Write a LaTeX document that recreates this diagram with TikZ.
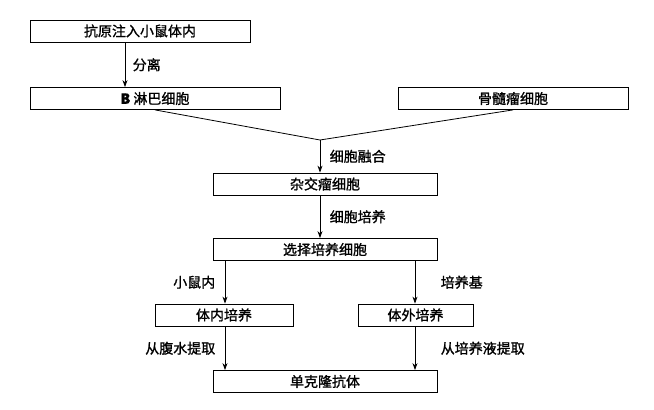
\documentclass[tikz,border=0pt]{standalone}
\usepackage{fontspec}
\setmainfont{Liberation Serif}
\newfontfamily\cjk[FakeBold=1.2]{Noto Sans CJK SC}
\usetikzlibrary{arrows.meta}
\begin{document}
\begin{tikzpicture}[x=1pt,y=-1pt,
 box/.style={draw,line width=0.8pt,minimum height=22pt,inner sep=0pt,font=\cjk\fontsize{14}{14}\selectfont},
 lab/.style={font=\cjk\fontsize{14}{14}\selectfont},
 arr/.style={line width=0.8pt,-{Stealth[length=7pt,width=5pt]}}]
\useasboundingbox (0,0) rectangle (654,410);
\node[box,minimum width=220pt] (b1) at (140,31) {抗原注入小鼠体内};
\node[box,minimum width=250pt] (b2) at (155,98.5) {{\bfseries B} 淋巴细胞};
\node[box,minimum width=230pt] (b3) at (513,98.5) {骨髓瘤细胞};
\node[box,minimum width=224pt] (b4) at (325,184) {杂交瘤细胞};
\node[box,minimum width=224pt] (b5) at (325,249.5) {选择培养细胞};
\node[box,minimum width=138pt] (b6) at (224,315) {体内培养};
\node[box,minimum width=115pt] (b7) at (415.5,315) {体外培养};
\node[box,minimum width=224pt] (b8) at (325,381.5) {单克隆抗体};
\coordinate (j) at (320,140);
\draw[arr] (b1.south -| 125,0) -- (b2.north -| 125,0) node[lab,midway,right=4pt]{分离};
\draw[line width=0.8pt] (b2.south) -- (j) -- (b3.south);
\draw[arr] (j) -- (b4.north -| j) node[lab,midway,right=6pt]{细胞融合};
\draw[arr] (b4.south -| j) -- (b5.north -| j) node[lab,midway,right=6pt]{细胞培养};
\draw[arr] (b5.south -| 225,0) -- (b6.north -| 225,0) node[lab,midway,left=6pt]{小鼠内};
\draw[arr] (b5.south -| 415,0) -- (b7.north -| 415,0) node[lab,midway,right=22pt]{培养基};
\draw[arr] (b6.south -| 225,0) -- (b8.north -| 225,0) node[lab,midway,left=6pt]{从腹水提取};
\draw[arr] (b7.south -| 415,0) -- (b8.north -| 415,0) node[lab,midway,right=22pt]{从培养液提取};
\end{tikzpicture}
\end{document}
